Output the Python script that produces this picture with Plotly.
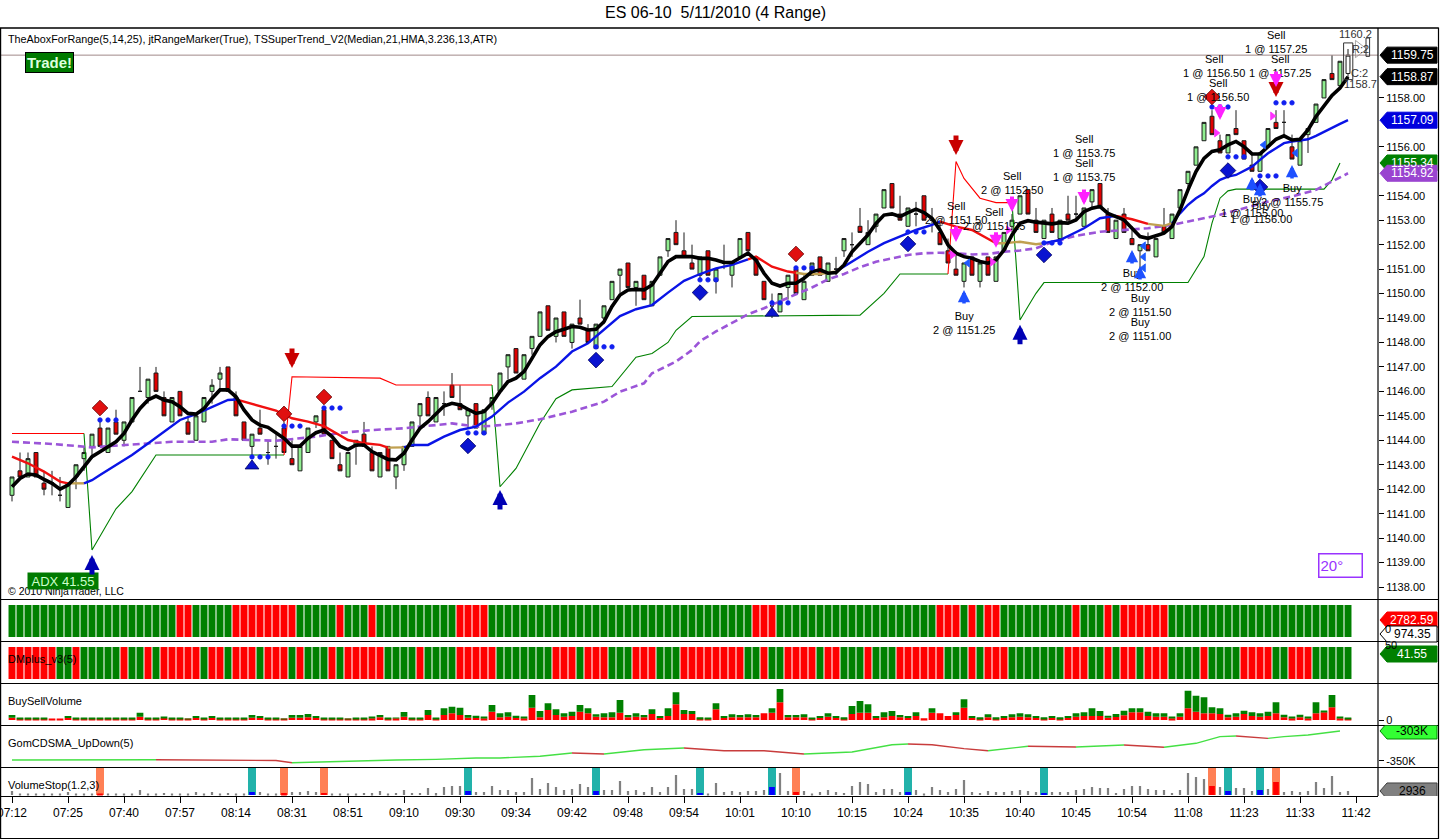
import plotly.graph_objects as go

W, H = 1440, 840
FONT = "Liberation Sans, Arial, sans-serif"


def fx(p):
    return p / W


def fy(p):
    return 1 - p / H


# ------------------------------------------------------------------ text
title_text = "ES 06-10 \u00a05/11/2010 (4 Range)"
indicator_label = "TheAboxForRange(5,14,25), jtRangeMarker(True), TSSuperTrend_V2(Median,21,HMA,3.236,13,ATR)"
panel_labels = ["DMplus_v3(5)", "BuySellVolume", "GomCDSMA_UpDown(5)", "VolumeStop(1.2,3)"]

time_tick_bars = [0, 7, 14, 21, 28, 35, 42, 49, 56, 63, 70, 77, 84, 91, 98, 105, 112, 119, 126, 133, 140, 147, 154, 161, 168]
time_tick_labels = ["07:12", "07:25", "07:40", "07:57", "08:14", "08:31", "08:51", "09:10", "09:30", "09:34",
                    "09:42", "09:48", "09:54", "10:01", "10:10", "10:15", "10:24", "10:35", "10:40", "10:45",
                    "10:54", "11:08", "11:23", "11:33", "11:42"]
# price ticks whose labels are not covered by the value tags
price_ticks = [1138, 1139, 1140, 1141, 1142, 1143, 1144, 1145, 1146, 1147, 1148, 1149,
               1150, 1151, 1152, 1153, 1154, 1156, 1158]

# ------------------------------------------------------------------ 4-range bars
opens = [1141.75, 1142.75, 1142.5, 1143.5, 1142.25, 1142.25, 1141.75, 1141.25, 1142.5, 1143.25,
         1143.75, 1144.5, 1143.5, 1144.75, 1144.0, 1144.75, 1146.0, 1145.75, 1146.75, 1145.75,
         1144.75, 1146.0, 1144.75, 1144.0, 1144.75, 1146.0, 1146.5, 1147.0, 1145.75, 1144.75,
         1143.75, 1144.5, 1143.5, 1143.75, 1144.5, 1143.25, 1142.75, 1143.5, 1144.75, 1145.25,
         1144.0, 1143.0, 1142.5, 1143.75, 1144.25, 1143.5, 1142.5, 1143.75, 1142.5, 1143.0,
         1143.75, 1145.0, 1145.75, 1144.75, 1145.5, 1146.25, 1145.5, 1145.0, 1145.5, 1144.25,
         1145.5, 1146.0, 1147.0, 1147.75, 1146.5, 1147.75, 1148.25, 1149.5, 1148.25, 1149.25,
         1148.0, 1149.0, 1148.5, 1147.75, 1149.0, 1149.75, 1150.75, 1151.25, 1150.25, 1150.75,
         1149.5, 1150.75, 1151.75, 1152.5, 1151.75, 1151.25, 1150.75, 1151.75, 1150.5, 1151.25,
         1150.75, 1151.5, 1152.5, 1151.5, 1150.5, 1149.5, 1149.25, 1150.25, 1151.0, 1149.75,
         1150.75, 1151.5, 1150.5, 1151.0, 1151.75, 1152.0, 1152.75, 1152.0, 1152.75, 1153.5,
         1154.5, 1153.25, 1152.75, 1153.25, 1154.0, 1153.0, 1152.5, 1151.75, 1151.0, 1150.5,
         1151.5, 1150.5, 1151.5, 1150.5, 1151.75, 1152.75, 1153.25, 1154.25, 1153.0, 1152.25,
         1153.25, 1152.25, 1153.25, 1153.25, 1152.75, 1153.75, 1154.5, 1153.25, 1152.25, 1153.25,
         1152.25, 1151.75, 1152.0, 1151.5, 1152.75, 1152.25, 1153.5, 1154.5, 1155.25, 1156.25,
         1157.25, 1156.25, 1155.75, 1156.75, 1156.25, 1155.25, 1155.0, 1156.0, 1157.0, 1157.0,
         1156.0, 1155.25, 1156.5, 1157.0, 1158.0, 1159.0, 1158.5, 1159.0]
highs = [1142.5, 1143.5, 1143.5, 1143.5, 1142.75, 1142.75, 1142.5, 1142.25, 1143.0, 1143.75,
         1144.25, 1144.75, 1144.5, 1145.25, 1144.75, 1145.75, 1147.0, 1146.5, 1147.0, 1146.0,
         1145.75, 1146.0, 1145.0, 1145.0, 1145.75, 1146.5, 1147.0, 1147.0, 1146.0, 1144.75,
         1144.25, 1145.25, 1144.0, 1144.25, 1144.75, 1144.0, 1143.75, 1144.5, 1145.0, 1145.25,
         1144.0, 1143.5, 1143.5, 1144.0, 1144.75, 1143.75, 1143.5, 1143.75, 1143.0, 1143.75,
         1144.75, 1145.5, 1146.0, 1145.75, 1146.0, 1146.75, 1146.25, 1145.25, 1145.5, 1145.25,
         1145.75, 1146.75, 1147.5, 1147.75, 1147.5, 1148.25, 1149.25, 1149.5, 1149.0, 1149.25,
         1148.75, 1149.75, 1148.75, 1148.75, 1149.5, 1150.5, 1151.0, 1151.25, 1150.5, 1150.75,
         1150.5, 1151.5, 1152.25, 1153.0, 1152.5, 1152.0, 1151.5, 1151.75, 1151.0, 1152.0,
         1151.25, 1152.25, 1152.5, 1151.5, 1150.5, 1150.0, 1150.0, 1150.75, 1151.0, 1150.75,
         1151.25, 1151.5, 1151.25, 1151.5, 1152.25, 1152.5, 1153.5, 1153.0, 1153.25, 1154.25,
         1154.5, 1154.0, 1153.5, 1153.75, 1154.0, 1153.5, 1153.0, 1152.25, 1151.75, 1151.25,
         1151.5, 1151.25, 1151.5, 1151.5, 1152.5, 1153.25, 1154.0, 1154.25, 1153.5, 1153.0,
         1153.5, 1153.0, 1154.0, 1154.0, 1153.5, 1154.25, 1154.5, 1153.5, 1153.0, 1153.5,
         1152.75, 1152.0, 1152.5, 1152.25, 1153.5, 1153.25, 1154.25, 1155.0, 1156.0, 1157.0,
         1157.5, 1156.5, 1156.5, 1157.5, 1156.25, 1155.75, 1155.75, 1156.75, 1157.5, 1157.5,
         1156.5, 1156.25, 1156.75, 1157.75, 1158.75, 1159.75, 1159.5, 1160.0]
lows = [1141.5, 1142.5, 1142.5, 1142.5, 1141.75, 1141.75, 1141.5, 1141.25, 1142.0, 1142.75,
        1143.25, 1143.75, 1143.5, 1144.25, 1143.75, 1144.75, 1146.0, 1145.5, 1146.0, 1145.0,
        1144.75, 1145.0, 1144.25, 1144.0, 1144.75, 1145.5, 1146.0, 1146.0, 1145.0, 1144.0,
        1143.25, 1144.25, 1143.0, 1143.25, 1143.5, 1143.0, 1142.75, 1143.5, 1144.5, 1144.25,
        1143.25, 1142.75, 1142.5, 1143.0, 1143.75, 1142.75, 1142.5, 1142.75, 1142.0, 1142.75,
        1143.75, 1144.5, 1145.0, 1144.75, 1145.0, 1145.75, 1145.25, 1144.5, 1144.5, 1144.25,
        1145.25, 1146.0, 1146.5, 1146.75, 1146.5, 1147.5, 1148.25, 1148.5, 1148.0, 1148.25,
        1147.75, 1148.75, 1148.0, 1147.75, 1148.75, 1149.75, 1150.0, 1150.25, 1149.5, 1149.75,
        1149.5, 1150.75, 1151.5, 1152.0, 1151.5, 1151.0, 1150.5, 1150.75, 1150.0, 1151.0,
        1150.25, 1151.5, 1151.75, 1150.75, 1149.75, 1149.0, 1149.25, 1149.75, 1150.0, 1149.75,
        1150.75, 1150.75, 1150.5, 1150.75, 1151.5, 1151.5, 1152.5, 1152.0, 1152.5, 1153.5,
        1153.5, 1153.0, 1152.75, 1152.75, 1153.0, 1152.5, 1152.0, 1151.25, 1150.75, 1150.25,
        1150.75, 1150.25, 1150.75, 1150.5, 1151.75, 1152.5, 1153.25, 1153.25, 1152.5, 1152.25,
        1152.5, 1152.25, 1153.0, 1153.0, 1152.75, 1153.5, 1153.5, 1152.5, 1152.25, 1152.5,
        1152.0, 1151.0, 1151.75, 1151.5, 1152.5, 1152.25, 1153.5, 1154.25, 1155.25, 1156.25,
        1156.5, 1155.75, 1155.75, 1156.5, 1155.5, 1155.0, 1155.0, 1156.0, 1156.75, 1156.5,
        1155.5, 1155.25, 1155.75, 1157.0, 1158.0, 1158.75, 1158.5, 1158.75]
closes = [1142.5, 1142.5, 1143.25, 1142.5, 1142.0, 1142.25, 1141.75, 1142.25, 1143.0, 1143.5,
          1144.25, 1143.75, 1144.5, 1144.25, 1144.75, 1145.75, 1146.0, 1146.5, 1146.0, 1145.0,
          1145.75, 1145.0, 1144.25, 1145.0, 1145.75, 1146.25, 1146.75, 1146.0, 1145.0, 1144.0,
          1144.25, 1144.25, 1143.5, 1143.75, 1143.5, 1143.0, 1143.75, 1144.5, 1145.0, 1144.25,
          1143.25, 1142.75, 1143.5, 1144.0, 1143.75, 1142.75, 1143.5, 1142.75, 1143.0, 1143.75,
          1144.75, 1145.5, 1145.0, 1145.75, 1145.5, 1145.75, 1145.25, 1145.25, 1144.5, 1145.25,
          1145.75, 1146.75, 1147.5, 1146.75, 1147.5, 1148.25, 1149.25, 1148.5, 1149.0, 1148.25,
          1148.75, 1148.75, 1148.0, 1148.75, 1149.5, 1150.5, 1151.0, 1150.25, 1150.5, 1149.75,
          1150.5, 1151.5, 1152.25, 1152.0, 1151.5, 1151.0, 1151.5, 1150.75, 1151.0, 1151.25,
          1151.25, 1152.25, 1151.75, 1150.75, 1149.75, 1149.5, 1150.0, 1150.75, 1150.0, 1150.5,
          1151.25, 1150.75, 1151.25, 1151.0, 1152.25, 1152.0, 1152.5, 1152.5, 1153.25, 1154.25,
          1153.5, 1153.0, 1153.5, 1153.25, 1153.0, 1153.0, 1152.0, 1151.25, 1150.75, 1151.25,
          1150.75, 1151.25, 1150.75, 1151.5, 1152.5, 1153.0, 1154.0, 1153.25, 1152.5, 1153.0,
          1152.5, 1153.0, 1153.0, 1153.25, 1153.5, 1154.25, 1153.5, 1152.5, 1153.0, 1152.5,
          1152.0, 1152.0, 1151.75, 1152.25, 1152.5, 1153.25, 1154.25, 1155.0, 1156.0, 1157.0,
          1156.5, 1155.75, 1156.5, 1156.5, 1155.5, 1155.0, 1155.75, 1156.75, 1156.75, 1157.0,
          1155.5, 1156.25, 1156.75, 1157.75, 1158.75, 1158.75, 1159.5, 1159.75]
bars = list(range(len(closes)))

# ------------------------------------------------------------------ indicator lines
hma_black = [1142.10, 1142.44, 1142.62, 1142.58, 1142.40, 1142.24, 1142.00, 1142.17, 1142.50, 1142.92,
             1143.33, 1143.53, 1143.74, 1143.94, 1144.28, 1144.83, 1145.30, 1145.65, 1145.81, 1145.65,
             1145.58, 1145.37, 1145.10, 1145.07, 1145.30, 1145.71, 1146.06, 1146.06, 1145.78, 1145.24,
             1144.83, 1144.62, 1144.53, 1144.31, 1144.08, 1143.76, 1143.76, 1144.08, 1144.31, 1144.42,
             1144.15, 1143.76, 1143.62, 1143.81, 1143.81, 1143.54, 1143.36, 1143.22, 1143.20, 1143.47,
             1144.01, 1144.49, 1144.76, 1145.10, 1145.40, 1145.51, 1145.44, 1145.27, 1145.10, 1145.17,
             1145.51, 1145.99, 1146.40, 1146.54, 1146.81, 1147.35, 1147.90, 1148.24, 1148.44, 1148.54,
             1148.65, 1148.62, 1148.51, 1148.54, 1148.85, 1149.47, 1149.94, 1150.15, 1150.17, 1150.15,
             1150.35, 1150.83, 1151.31, 1151.51, 1151.51, 1151.51, 1151.44, 1151.44, 1151.37, 1151.27,
             1151.27, 1151.44, 1151.65, 1151.37, 1150.83, 1150.42, 1150.31, 1150.42, 1150.42, 1150.62,
             1150.90, 1150.97, 1150.83, 1150.86, 1151.17, 1151.71, 1152.06, 1152.40, 1152.87, 1153.21,
             1153.26, 1153.15, 1153.31, 1153.45, 1153.31, 1153.08, 1152.60, 1151.99, 1151.65, 1151.51,
             1151.44, 1151.31, 1151.24, 1151.37, 1151.78, 1152.40, 1152.87, 1152.98, 1152.92, 1152.88,
             1152.85, 1152.90, 1152.88, 1153.01, 1153.35, 1153.49, 1153.56, 1153.28, 1153.15, 1153.01,
             1152.67, 1152.33, 1152.26, 1152.36, 1152.47, 1152.74, 1153.42, 1154.24, 1154.99, 1155.53,
             1155.81, 1155.88, 1156.08, 1156.22, 1156.01, 1155.71, 1155.71, 1156.01, 1156.31, 1156.45,
             1156.28, 1156.31, 1156.69, 1157.24, 1157.65, 1158.10, 1158.40, 1158.87]

# colour-changing moving average (blue = up, red = down, tan = flat)
ma_bars = [0, 2, 4, 6, 7, 9, 10, 11, 13, 15, 17, 19, 21, 23, 25, 27, 28, 29, 31, 33, 35, 37, 39, 41, 42,
           44, 46, 47, 49, 50, 52, 54, 56, 58, 60, 62, 64, 66, 68, 70, 72, 74, 76, 78, 80, 82, 84, 86,
           88, 90, 92, 93, 95, 97, 98, 99, 101, 103, 105, 107, 109, 111, 113, 115, 116, 118, 120, 122,
           123, 124, 126, 128, 129, 131, 134, 136, 138, 140, 142, 144, 145, 146, 147, 148, 149, 150,
           151, 152, 153, 154, 155, 156, 157, 158, 159, 160, 161, 162, 163, 164, 165, 166, 167]
ma_vals = [1143.33, 1143.06, 1142.72, 1142.31, 1142.24, 1142.24, 1142.37, 1142.58, 1142.99, 1143.40,
           1143.87, 1144.35, 1144.83, 1145.07, 1145.37, 1145.65, 1145.67, 1145.58, 1145.37, 1145.21,
           1144.90, 1144.76, 1144.58, 1144.21, 1144.01, 1143.88, 1143.81, 1143.70, 1143.71, 1143.81,
           1143.81, 1144.15, 1144.42, 1144.56, 1144.97, 1145.54, 1145.99, 1146.54, 1147.01, 1147.63,
           1147.97, 1148.51, 1149.08, 1149.36, 1149.53, 1150.04, 1150.52, 1150.80, 1151.03, 1151.17,
           1151.40, 1151.51, 1151.10, 1150.90, 1150.85, 1150.80, 1150.80, 1150.90, 1151.31, 1151.71,
           1152.06, 1152.33, 1152.60, 1152.81, 1152.94, 1152.74, 1152.60, 1152.26, 1152.06, 1152.06,
           1152.12, 1152.02, 1152.06, 1152.19, 1152.67, 1153.08, 1153.18, 1153.04, 1152.85, 1152.77,
           1152.88, 1153.28, 1153.63, 1153.90, 1154.10, 1154.40, 1154.65, 1154.78, 1154.85, 1155.03,
           1155.19, 1155.47, 1155.74, 1155.94, 1156.15, 1156.22, 1156.26, 1156.31, 1156.45, 1156.62,
           1156.80, 1156.94, 1157.09]
ma_seg_start = [0, 7, 9, 28, 47, 49, 92, 98, 103, 116, 123, 129, 138, 142, 145]
ma_seg_state = ["R", "T", "B", "R", "T", "B", "R", "T", "B", "R", "T", "B", "R", "T", "B"]

purple_bars = [0, 5, 10, 15, 20, 25, 27, 33, 38, 41, 45, 49, 55, 58, 60, 63, 66, 70, 74, 76, 79, 80, 83,
               85, 86, 88, 90, 92, 94, 96, 98, 100, 102, 104, 106, 108, 110, 112, 114, 116, 118, 120,
               122, 124, 126, 128, 130, 133, 136, 139, 142, 145, 148, 151, 154, 157, 160, 163, 165, 167]
purple_vals = [1143.94, 1143.85, 1143.71, 1143.81, 1143.94, 1143.94, 1144.04, 1143.98, 1144.15, 1144.30,
               1144.42, 1144.49, 1144.69, 1144.56, 1144.59, 1144.69, 1144.86, 1145.17, 1145.58, 1145.99,
               1146.33, 1146.74, 1147.22, 1147.69, 1148.05, 1148.45, 1148.80, 1149.15, 1149.40, 1149.70,
               1149.97, 1150.25, 1150.58, 1150.80, 1151.08, 1151.30, 1151.44, 1151.58, 1151.65, 1151.67,
               1151.65, 1151.60, 1151.62, 1151.71, 1151.76, 1151.85, 1152.10, 1152.36, 1152.53, 1152.60,
               1152.67, 1152.81, 1153.01, 1153.22, 1153.49, 1153.76, 1153.97, 1154.24, 1154.58, 1154.92]

# TSSuperTrend: trend of the segment ending at each knot (1 up / -1 down)
st_bars = [0, 9, 10, 13, 15, 18, 34, 35, 46, 48, 60, 61, 63, 66, 68, 70, 75, 76, 78, 80, 82, 83, 85, 106,
           108, 109, 111, 117, 118, 119, 120, 121, 123, 125, 126, 127, 128, 129, 147, 149, 150, 151, 152,
           153, 164, 165, 166]
st_vals = [1144.28, 1144.28, 1139.51, 1141.2, 1141.9, 1143.4, 1143.4, 1146.6, 1146.54, 1146.26, 1146.26,
           1142.1, 1142.85, 1144.7, 1145.7, 1146.06, 1146.2, 1146.6, 1147.4, 1147.55, 1148.0, 1148.5,
           1149.06, 1149.12, 1149.7, 1150.01, 1150.8, 1150.8, 1155.4, 1154.71, 1154.3, 1153.9, 1153.72,
           1153.72, 1148.92, 1149.47, 1150.01, 1150.45, 1150.45, 1151.51, 1152.88, 1153.9, 1154.2,
           1154.27, 1154.27, 1154.65, 1155.34]
st_trend = [-1, -1, 1, 1, 1, 1, 1, -1, -1, -1, -1, 1, 1, 1, 1, 1, 1, 1, 1, 1, 1, 1, 1, 1, 1, 1, 1, 1,
            -1, -1, -1, -1, -1, -1, 1, 1, 1, 1, 1, 1, 1, 1, 1, 1, 1, 1, 1]

# ------------------------------------------------------------------ signal markers
red_diamond_bar = [11, 34, 39, 98, 150]
red_diamond_price = [1145.32, 1145.08, 1145.77, 1151.62, 1158.04]
blue_diamond_bar = [57, 73, 86, 112, 129, 152, 156]
blue_diamond_price = [1143.77, 1147.28, 1150.04, 1152.03, 1151.58, 1155.03, 1154.36]
dot_row_bar = [11, 30, 34, 39, 57, 73, 86, 95, 98, 112, 129, 150, 152, 156, 158]
dot_row_price = [1144.83, 1143.32, 1144.58, 1145.32, 1144.30, 1147.82, 1150.56, 1149.62, 1151.05,
                 1152.52, 1152.07, 1157.63, 1155.59, 1154.81, 1157.80]
blue_tri_bar = [30, 95]
blue_tri_price = [1142.95, 1149.20]

signal_down_bar = [35, 118, 158]
signal_down_tip = [1146.96, 1155.67, 1158.04]
signal_up_bar = [10, 61, 126]
signal_up_tip = [1139.31, 1141.97, 1148.72]
buy_fill_bar = [119, 140, 141, 155, 156, 160]
buy_fill_tip = [1150.15, 1151.78, 1151.13, 1154.77, 1154.52, 1155.26]
sell_fill_bar = [118, 123, 125, 134, 151, 158]
sell_fill_tip = [1152.11, 1151.87, 1153.34, 1153.62, 1157.10, 1158.45]
exit_mark_bar = [118, 123, 125, 151, 158]
exit_mark_price = [1151.58, 1151.29, 1152.60, 1156.57, 1157.26]
entry_mark_bar = [119, 141, 141, 141, 156, 160]
entry_mark_price = [1151.25, 1151.95, 1151.50, 1151.05, 1156.08, 1155.75]

trade_label_bar = [118, 122.75, 125, 119, 134, 134, 140, 141, 141, 150.25, 150.75, 158, 158.5,
                   160, 155, 156.1]
trade_label_price = [1153.30, 1153.05, 1154.52, 1148.80, 1156.04, 1155.06, 1150.56, 1149.53, 1148.55,
                     1159.31, 1158.33, 1160.29, 1159.31, 1154.03, 1153.58, 1153.34]
trade_label_text = ["Sell<br>2 @ 1151.50", "Sell<br>2 @ 1151.25", "Sell<br>2 @ 1152.50",
                    "Buy<br>2 @ 1151.25", "Sell<br>1 @ 1153.75", "Sell<br>1 @ 1153.75",
                    "Buy<br>2 @ 1152.00", "Buy<br>2 @ 1151.50", "Buy<br>2 @ 1151.00",
                    "Sell<br>1 @ 1156.50", "Sell<br>1 @ 1156.50", "Sell<br>1 @ 1157.25",
                    "Sell<br>1 @ 1157.25", "Buy<br>2 @ 1155.75", "Buy<br>1 @ 1155.00",
                    "Buy<br>1 @ 1156.00"]

range_marker_high = 1160.25
range_marker_low = 1158.75
range_marker_texts = ["1160.2", "R:2", "C:2", "1158.7"]
adx_value = 41.55
angle_text = "20°"

# ------------------------------------------------------------------ lower panels
panel_a_state = ("GGGGGGGGGG" "GGGGGGGGGG" "GRRGGGGGRR" "RRRRRRGGGG" "GRGGGRGGGG" "GGGGGGRRRR"
                 "GGGGGGGGGG" "GGGGGGGGGG" "GGGGGGGGGG" "GGGRRRGGGG" "GGGGGGGGGG" "GGGGGGRRRG"
                 "RGRRGGGGGG" "GGGRGGGRGR" "RRRRRGGGGG" "GGGGGGGGGG" "GGGGGGGG")
panel_b_state = ("RRRRRRGGRG" "GGGGRGGRGR" "RRRRGRRGRR" "RGRRRGRGGG" "RGRRRRRGGG" "GRGGGGRRRR"
                 "RGGGGGGGRR" "RGRRRGGGRR" "RGGGRRRRRR" "RRGGRGGRRR" "RGRRGGGRGG" "GRRRRRRGGG"
                 "RGRRRGGGGG" "GGRRRGGRGR" "RGRRRGGGGR" "GGGGRRRRGG" "RRRGGGGG")
panel_a_tags = ["2782.59", "974.35"]

bsv_total = [15, 5, 5, 5, 5, 3, 3, 12, 5, 5, 5, 5, 5, 6, 6, 6, 22, 5, 5, 8,
             5, 7, 3, 12, 5, 12, 5, 7, 6, 6, 15, 12, 7, 6, 3, 15, 15, 18, 12, 6,
             6, 6, 3, 7, 7, 8, 15, 5, 7, 24, 7, 7, 30, 7, 35, 40, 37, 15, 13, 10,
             45, 20, 23, 13, 10, 75, 27, 50, 32, 20, 25, 45, 35, 17, 20, 23, 60, 15, 20, 15,
             32, 12, 35, 83, 30, 27, 8, 6, 50, 12, 17, 15, 17, 15, 20, 35, 93, 15, 15, 17,
             7, 12, 20, 12, 8, 42, 57, 47, 12, 23, 27, 15, 12, 23, 5, 35, 20, 12, 23, 62,
             12, 8, 17, 8, 12, 17, 20, 17, 12, 8, 12, 8, 12, 20, 23, 35, 27, 13, 18, 28,
             35, 35, 25, 20, 20, 10, 20, 88, 73, 68, 38, 35, 16, 20, 28, 23, 20, 25, 53, 16,
             10, 16, 10, 53, 28, 75, 10, 5]
bsv_sell = [7, 3, 2, 3, 2, 3, 3, 6, 2, 3, 2, 3, 2, 3, 3, 3, 10, 2, 3, 6,
            2, 4, 2, 6, 2, 6, 3, 4, 3, 3, 7, 6, 4, 3, 2, 7, 7, 8, 6, 3,
            3, 3, 2, 4, 4, 5, 8, 2, 5, 10, 4, 4, 15, 4, 15, 20, 15, 7, 6, 5,
            25, 8, 10, 6, 5, 37, 8, 30, 15, 10, 12, 25, 20, 10, 8, 8, 22, 8, 10, 8,
            18, 6, 12, 47, 18, 18, 4, 3, 32, 6, 8, 8, 8, 8, 20, 22, 53, 8, 8, 8,
            4, 6, 10, 6, 4, 18, 22, 22, 6, 8, 12, 8, 6, 12, 5, 22, 20, 12, 15, 37,
            6, 4, 8, 4, 6, 8, 10, 8, 6, 4, 6, 4, 6, 10, 12, 12, 12, 7, 9, 14,
            23, 23, 12, 10, 10, 5, 10, 35, 25, 20, 20, 18, 8, 10, 18, 12, 10, 12, 20, 8,
            5, 8, 5, 20, 23, 38, 5, 3]

gom_bars = [0, 12, 18, 25, 30, 33, 35, 38, 44, 48, 53, 58, 61, 66, 70, 74, 79, 84, 89, 94, 97, 99, 105,
            110, 112, 115, 119, 122, 127, 130, 133, 137, 139, 142, 144, 148, 151, 153, 157, 159, 162, 166]
gom_vals_k = [-348.4, -348.4, -348.0, -348.4, -348.4, -349.2, -352.7, -351.6, -349.8, -348.4, -347.5,
              -345.3, -345.3, -342.6, -337.5, -339.0, -332.3, -329.6, -333.9, -333.9, -337.5, -339.0,
              -335.9, -324.5, -323.4, -324.5, -330.7, -333.9, -327.0, -328.1, -328.1, -326.0, -324.9,
              -327.6, -328.5, -322.3, -311.9, -310.8, -314.5, -311.9, -309.3, -303.0]

vstop_vol = [2900, 700, 760, 690, 720, 750, 680, 2200, 740, 700,
             720, 760, 700, 710, 690, 760, 3600, 720, 700, 1500,
             740, 710, 700, 2200, 690, 2150, 720, 1480, 760, 700,
             2250, 2200, 740, 690, 1450, 2150, 2230, 2950, 2180, 1470,
             720, 750, 690, 700, 1500, 1440, 2900, 730, 1460, 3700,
             1480, 1500, 5100, 1450, 5800, 6600, 6500, 2950, 2200, 2180,
             6600, 3650, 3700, 2200, 2190, 12400, 4400, 8800, 5850, 3640,
             4380, 8030, 5840, 2920, 3650, 3700, 10200, 2900, 3660, 2190,
             5840, 2200, 5850, 14600, 4380, 4400, 1460, 730, 8760, 2190,
             2920, 2200, 2920, 2900, 3650, 5840, 16060, 2920, 2190, 2920,
             730, 2190, 3650, 2200, 1460, 6570, 9490, 8030, 2190, 4380,
             4400, 2190, 2190, 3650, 730, 5840, 3650, 2190, 4380, 10950,
             2190, 1460, 2920, 2190, 2200, 2920, 3650, 2920, 2190, 1460,
             2190, 2200, 2190, 3650, 4380, 5840, 5110, 5110, 1460, 4380,
             6570, 6570, 4380, 3650, 3650, 1460, 3650, 16060, 13140, 11680,
             6570, 5840, 2920, 5110, 5110, 2920, 3650, 4380, 9490, 2190,
             2920, 2190, 2920, 9490, 5110, 13870, 2190, 2936]
vstop_sell_bars = [11, 34, 39, 98, 150, 158]
vstop_buy_bars = [30, 57, 73, 86, 95, 112, 129, 152, 156]

# ------------------------------------------------------------------ colours
C_UP = "#90EE90"
C_DN = "#E00000"
C_OUT = "#1a1a1a"
C_GREEN = "#008000"
C_RED = "#FF0000"
C_BLUE = "#0000FF"
C_TAN = "#C0A050"
C_PURPLE = "#9B55D8"
C_CORAL = "#FF8055"
C_TEAL = "#22B2AA"
MA_COLORS = {"R": "#F01010", "T": C_TAN, "B": "#0A14E6"}

# axis geometry (pixel rows of the reference)
Y_MAIN = [fy(598.5), fy(28)]
Y_A = [fy(641.5), fy(599.5)]
Y_B = [fy(683.5), fy(641.5)]
Y_V = [fy(725.5), fy(683.5)]
Y_G = [fy(767.5), fy(725.5)]
Y_S = [fy(796), fy(767.5)]
PRICE_RANGE = [1137.53, 1160.86]
VSTOP_TOP = 20075

fig = go.Figure()

# ---- candles
last = len(closes) - 1
fig.add_trace(go.Candlestick(
    x=bars[:last], open=opens[:last], high=highs[:last], low=lows[:last], close=closes[:last],
    increasing=dict(fillcolor=C_UP, line=dict(color=C_OUT, width=1)),
    decreasing=dict(fillcolor=C_DN, line=dict(color=C_OUT, width=1)),
    whiskerwidth=0, hoverinfo="skip", showlegend=False, xaxis="x", yaxis="y"))
fig.add_trace(go.Candlestick(
    x=[bars[last]], open=[opens[last]], high=[highs[last]], low=[lows[last]], close=[closes[last]],
    increasing=dict(fillcolor="white", line=dict(color=C_OUT, width=1)),
    decreasing=dict(fillcolor="white", line=dict(color=C_OUT, width=1)),
    whiskerwidth=0, hoverinfo="skip", showlegend=False, xaxis="x", yaxis="y"))


def add_line(xs, ys, color, width, dash=None, yaxis="y"):
    fig.add_trace(go.Scatter(x=xs, y=ys, mode="lines",
                             line=dict(color=color, width=width, dash=dash),
                             hoverinfo="skip", showlegend=False, xaxis="x", yaxis=yaxis))


def runs(xs, ys, states):
    segs = []
    cur = None
    for i in range(1, len(xs)):
        s = states[i]
        if cur is None or cur[0] != s:
            cur = [s, [xs[i - 1]], [ys[i - 1]]]
            segs.append(cur)
        cur[1].append(xs[i])
        cur[2].append(ys[i])
    return segs


# supertrend
for s, xs, ys in runs(st_bars, st_vals, st_trend):
    add_line(xs, ys, C_GREEN if s == 1 else C_RED, 1.1)

# purple slow average
add_line(purple_bars, purple_vals, C_PURPLE, 2.6, dash="7px,4px")

# colour-changing average
ma_state = ["B"]
for i in range(1, len(ma_bars)):
    st = ma_seg_state[0]
    for b0, s in zip(ma_seg_start, ma_seg_state):
        if ma_bars[i - 1] >= b0:
            st = s
    ma_state.append(st)
for s, xs, ys in runs(ma_bars, ma_vals, ma_state):
    add_line(xs, ys, MA_COLORS[s], 2.4)

# fast black HMA
add_line(bars, hma_black, "#000000", 3.6)

# ---- markers
dot_x, dot_y = [], []
for b, p in zip(dot_row_bar, dot_row_price):
    for k in range(3):
        dot_x.append(b + k)
        dot_y.append(p)


def add_markers(xs, ys, symbol, size, color, line_color=None, yaxis="y"):
    fig.add_trace(go.Scatter(x=xs, y=ys, mode="markers",
                             marker=dict(symbol=symbol, size=size, color=color,
                                         line=dict(color=line_color or color, width=0.8)),
                             hoverinfo="skip", showlegend=False, xaxis="x", yaxis=yaxis))


add_markers(dot_x, dot_y, "circle", 4.5, "#1020F0")
add_markers(red_diamond_bar, red_diamond_price, "diamond", 12, "#E01010", "#600000")
add_markers(blue_diamond_bar, blue_diamond_price, "diamond", 12, "#0A14D0", "#000060")
add_markers(blue_tri_bar, blue_tri_price, "triangle-up", 12, "#0A14D0", "#000060")
add_markers([b - 0.45 for b in exit_mark_bar], exit_mark_price, "triangle-right", 7, "#FF30FF")
add_markers([b + 0.45 for b in entry_mark_bar], entry_mark_price, "triangle-left", 7, "#1E5AFF")
add_markers([bars[last] + 1.4], [range_marker_high - 0.25], "triangle-right-open", 15, "#909090")

# ---- panel A / B colour blocks
fig.add_trace(go.Bar(x=bars, y=[0.76] * len(bars), base=0.107, width=0.87,
                     marker=dict(color=[C_GREEN if s == "G" else C_RED for s in panel_a_state], line=dict(width=0)),
                     hoverinfo="skip", showlegend=False, xaxis="x", yaxis="y2"))
fig.add_trace(go.Bar(x=bars, y=[0.76] * len(bars), base=0.107, width=0.87,
                     marker=dict(color=[C_GREEN if s == "G" else C_RED for s in panel_b_state], line=dict(width=0)),
                     hoverinfo="skip", showlegend=False, xaxis="x", yaxis="y3"))

# ---- buy / sell volume
bsv_buy = [t - s for t, s in zip(bsv_total, bsv_sell)]
fig.add_trace(go.Bar(x=bars, y=bsv_sell, base=0, width=0.84,
                     marker=dict(color=C_RED, line=dict(width=0)),
                     hoverinfo="skip", showlegend=False, xaxis="x", yaxis="y4"))
fig.add_trace(go.Bar(x=bars, y=bsv_buy, base=bsv_sell, width=0.84,
                     marker=dict(color=C_GREEN, line=dict(width=0)),
                     hoverinfo="skip", showlegend=False, xaxis="x", yaxis="y4"))

# ---- GomCDSMA line coloured by direction
gom_state = ["up"]
for i in range(1, len(gom_vals_k)):
    if gom_vals_k[i] > gom_vals_k[i - 1]:
        gom_state.append("up")
    elif gom_vals_k[i] < gom_vals_k[i - 1]:
        gom_state.append("dn")
    else:
        gom_state.append(gom_state[-1])
for s, xs, ys in runs(gom_bars, gom_vals_k, gom_state):
    add_line(xs, ys, "#44E044" if s == "up" else "#C83C3C", 1.4, yaxis="y5")

# ---- VolumeStop
sig_bars = set(vstop_sell_bars) | set(vstop_buy_bars)
gx = [b for b in bars if b not in sig_bars]
fig.add_trace(go.Bar(x=gx, y=[vstop_vol[b] for b in gx], width=0.28,
                     marker=dict(color="#808080", line=dict(width=0)),
                     hoverinfo="skip", showlegend=False, xaxis="x", yaxis="y6"))
fig.add_trace(go.Bar(x=vstop_sell_bars, y=[vstop_vol[b] for b in vstop_sell_bars], width=0.72,
                     marker=dict(color=C_RED, line=dict(width=0)),
                     hoverinfo="skip", showlegend=False, xaxis="x", yaxis="y6"))
fig.add_trace(go.Bar(x=vstop_buy_bars, y=[vstop_vol[b] for b in vstop_buy_bars], width=0.72,
                     marker=dict(color=C_BLUE, line=dict(width=0)),
                     hoverinfo="skip", showlegend=False, xaxis="x", yaxis="y6"))

# ------------------------------------------------------------------ shapes
shapes = []
for b in vstop_sell_bars + vstop_buy_bars:
    shapes.append(dict(type="rect", xref="x", yref="y6", x0=b - 0.5, x1=b + 0.5, y0=0, y1=VSTOP_TOP,
                       fillcolor=C_CORAL if b in vstop_sell_bars else C_TEAL, line=dict(width=0), layer="below"))

# last price line
shapes.append(dict(type="line", xref="paper", yref="y", x0=0, x1=fx(1378), y0=closes[last], y1=closes[last],
                   line=dict(color="#A08888", width=1)))
# range marker box
shapes.append(dict(type="rect", xref="x", yref="y", x0=bars[last] - 0.55, x1=bars[last] + 0.6,
                   y0=range_marker_low, y1=range_marker_high, line=dict(color="#333333", width=1)))
shapes.append(dict(type="rect", xref="x", yref="y", x0=bars[last] + 2.25, x1=bars[last] + 2.7,
                   y0=range_marker_high - 0.55, y1=range_marker_high + 0.2, line=dict(color="#333333", width=1)))

# frame & separators
for yy in [28, 599.5, 641.5, 683.5, 725.5, 767.5]:
    shapes.append(dict(type="line", xref="paper", yref="paper", x0=0, x1=fx(1438.5), y0=fy(yy), y1=fy(yy),
                       line=dict(color="black", width=1.2)))
shapes.append(dict(type="line", xref="paper", yref="paper", x0=fx(1378), x1=fx(1378), y0=fy(796), y1=fy(28),
                   line=dict(color="black", width=1.2)))
shapes.append(dict(type="rect", xref="paper", yref="paper", x0=fx(0.6), x1=fx(1438.5), y0=fy(838.5), y1=fy(28),
                   line=dict(color="black", width=1.2)))

# value tags
annotations = []


def add_tag(yval, yref, text, fill, txt_color, border=None):
    shapes.append(dict(type="path", xref="paper", yref=yref, xsizemode="pixel", ysizemode="pixel",
                       xanchor=fx(1379), yanchor=yval,
                       path="M1,0 L8,-8 L58,-8 L58,8 L8,8 Z",
                       fillcolor=fill, line=dict(color=border or fill, width=1)))
    annotations.append(dict(xref="paper", yref=yref, x=fx(1412), y=yval, text=text, showarrow=False,
                            xanchor="center", yanchor="middle", font=dict(size=12, color=txt_color)))


# ------------------------------------------------------------------ annotations
annotations.append(dict(xref="paper", yref="paper", x=fx(715), y=fy(13), text=title_text, showarrow=False,
                        xanchor="center", yanchor="middle", font=dict(size=16)))
annotations.append(dict(xref="paper", yref="paper", x=fx(6), y=fy(39), text=indicator_label, showarrow=False,
                        xanchor="left", yanchor="middle", font=dict(size=10.8)))
for lab, yy in zip(panel_labels, [659, 701, 743, 785]):
    annotations.append(dict(xref="paper", yref="paper", x=fx(6), y=fy(yy), text=lab, showarrow=False,
                            xanchor="left", yanchor="middle", font=dict(size=11)))
annotations.append(dict(xref="paper", yref="paper", x=fx(25), y=fy(52), text="<b>Trade!</b>", showarrow=False,
                        xanchor="left", yanchor="top", font=dict(size=15, color="#DDFFDD"),
                        bgcolor="#007A00", bordercolor="black", borderwidth=1, borderpad=1))
annotations.append(dict(xref="paper", yref="paper", x=fx(6), y=fy(591), text="© 2010 NinjaTrader, LLC",
                        showarrow=False, xanchor="left", yanchor="middle", font=dict(size=10.5)))
annotations.append(dict(xref="paper", yref="paper", x=fx(27), y=fy(572), text=f"ADX {adx_value:.2f}",
                        showarrow=False, xanchor="left", yanchor="top", font=dict(size=13, color="#CCFFCC"),
                        bgcolor="#007A00", borderpad=0, width=70, height=16))
annotations.append(dict(xref="paper", yref="paper", x=fx(1318), y=fy(553), text=angle_text, showarrow=False,
                        xanchor="left", yanchor="top", font=dict(size=15, color="#9933FF"), align="left",
                        bordercolor="#9933FF", borderwidth=1.5, borderpad=1, width=40, height=20))

for b, p, t in zip(trade_label_bar, trade_label_price, trade_label_text):
    annotations.append(dict(xref="x", yref="y", x=b, y=p, text=t, showarrow=False, xanchor="center",
                            yanchor="middle", font=dict(size=11), align="center"))


def add_arrow(b, tip, up, color, width, size, length):
    annotations.append(dict(xref="x", yref="y", x=b, y=tip, text="", showarrow=True, arrowhead=2,
                            arrowsize=size, arrowwidth=width, arrowcolor=color, ax=0,
                            ay=length if up else -length, standoff=0))


for b, p in zip(signal_up_bar, signal_up_tip):
    add_arrow(b, p, True, "#0000B4", 5, 0.6, 21)
for b, p in zip(signal_down_bar, signal_down_tip):
    add_arrow(b, p, False, "#C80000", 5, 0.6, 21 if b != 158 else 10)
for b, p in zip(buy_fill_bar, buy_fill_tip):
    add_arrow(b, p, True, "#1E50FF", 3.5, 0.7, 15)
for b, p in zip(sell_fill_bar, sell_fill_tip):
    add_arrow(b, p, False, "#FF20FF", 4, 0.65, 17)

# range marker texts
for t, bx, p in zip(range_marker_texts, [bars[last] + 0.9, bars[last] + 1.5, bars[last] + 1.4, bars[last] + 1.5],
                    [range_marker_high + 0.35, range_marker_high - 0.25, range_marker_low + 0.27, range_marker_low - 0.2]):
    annotations.append(dict(xref="x", yref="y", x=bx, y=p, text=t, showarrow=False, xanchor="center",
                            yanchor="middle", font=dict(size=11, color="#333333")))

# right axis tags
add_tag(closes[last], "y", f"{closes[last]:.2f}", "#000000", "white")
add_tag(hma_black[-1], "y", f"{hma_black[-1]:.2f}", "#000000", "white")
add_tag(ma_vals[-1], "y", f"{ma_vals[-1]:.2f}", "#0000DD", "white")
add_tag(st_vals[-1], "y", f"{st_vals[-1]:.2f}", C_GREEN, "white")
add_tag(purple_vals[-1], "y", f"{purple_vals[-1]:.2f}", "#9A44D0", "white")
annotations.append(dict(xref="paper", yref="paper", x=fx(1383), y=fy(629), text="0", showarrow=False,
                        xanchor="left", yanchor="middle", font=dict(size=11)))
annotations.append(dict(xref="paper", yref="paper", x=fx(1383), y=fy(645), text="50", showarrow=False,
                        xanchor="left", yanchor="middle", font=dict(size=11)))
add_tag(fy(620), "paper", panel_a_tags[0], "#FF0000", "white")
add_tag(fy(634), "paper", panel_a_tags[1], "white", "black", border="black")
add_tag(fy(654), "paper", f"{adx_value:.2f}", C_GREEN, "white")
add_tag(gom_vals_k[-1], "y5", f"{gom_vals_k[-1]:.0f}K", "#33FF33", "black", border="#008800")
add_tag(vstop_vol[-1], "y6", f"{vstop_vol[-1]}", "#808080", "black", border="#404040")

# ------------------------------------------------------------------ layout
common_y = dict(showgrid=False, zeroline=False, side="right", anchor="x", ticks="outside", ticklen=5,
                tickcolor="black", tickfont=dict(size=11), fixedrange=True)
fig.update_layout(
    width=W, height=H, margin=dict(l=0, r=0, t=0, b=0, autoexpand=False),
    paper_bgcolor="white", plot_bgcolor="white", showlegend=False,
    font=dict(family=FONT, size=11, color="black"),
    barmode="overlay", boxgap=0.3,
    xaxis=dict(domain=[0, fx(1378)], range=[-1.5, 170.75], anchor="y6", tickvals=time_tick_bars,
               ticktext=time_tick_labels, ticks="outside", ticklen=6, tickcolor="black",
               showline=True, linecolor="black", showgrid=False, zeroline=False,
               ticklabeloverflow="allow", automargin=False,
               rangeslider=dict(visible=False), tickfont=dict(size=12), fixedrange=True),
    yaxis=dict(domain=Y_MAIN, range=PRICE_RANGE, tickvals=price_ticks,
               ticktext=[f"{v:.2f}" for v in price_ticks], **common_y),
    yaxis2=dict(domain=Y_A, range=[0, 1], showticklabels=False, ticks="", showgrid=False, zeroline=False,
                anchor="x", fixedrange=True),
    yaxis3=dict(domain=Y_B, range=[0, 1], showticklabels=False, ticks="", showgrid=False, zeroline=False,
                anchor="x", fixedrange=True),
    yaxis4=dict(domain=Y_V, range=[-16.5, 109.5], tickvals=[0], ticktext=["0"], **common_y),
    yaxis5=dict(domain=Y_G, range=[-360.2, -294.4], tickvals=[-350], ticktext=["-350K"], **common_y),
    yaxis6=dict(domain=Y_S, range=[-730, VSTOP_TOP], showticklabels=False, ticks="", showgrid=False,
                zeroline=False, anchor="x", side="right", fixedrange=True),
    shapes=shapes, annotations=annotations,
)

fig.write_html("out.html", config={"displayModeBar": False},
               post_script="document.body.style.margin='0';document.body.style.overflow='hidden';")
